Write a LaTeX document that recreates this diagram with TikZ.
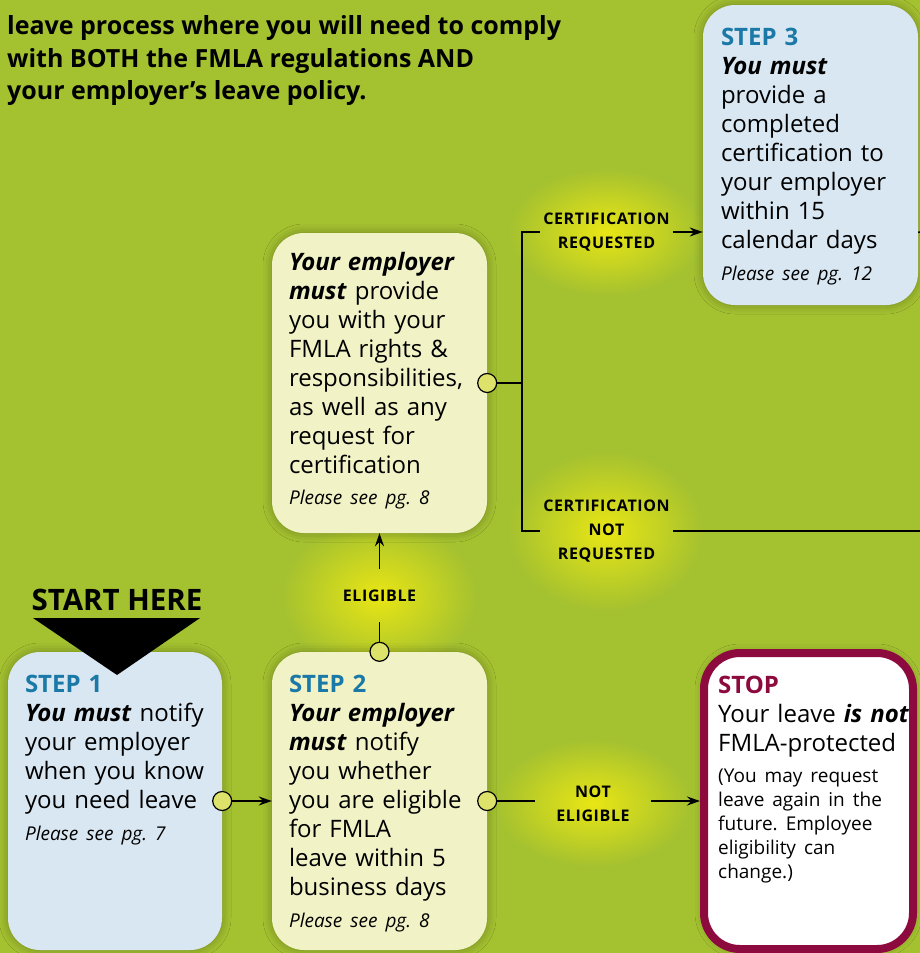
\documentclass[tikz,border=0pt]{standalone}
\usepackage{fontspec}
\setmainfont{Open Sans}
\usetikzlibrary{arrows.meta,shadows.blur}
\definecolor{bg}{HTML}{A4C130}
\definecolor{glow}{HTML}{E9E614}
\definecolor{stepblue}{HTML}{1A79A7}
\definecolor{boxblue}{HTML}{D9E7F2}
\definecolor{boxyel}{HTML}{F1F3C7}
\definecolor{dotyel}{HTML}{DDE36A}
\definecolor{stopred}{HTML}{8C0A3E}
\newcommand{\bi}[1]{\textbf{\textit{#1}}}
\newcommand{\seepg}[1]{\par\vspace{7.5pt}{\fontsize{19}{24}\selectfont\itshape #1\par}}
\frenchspacing
\begin{document}
\begin{tikzpicture}[x=1pt,y=-1pt,
  card/.style={rounded corners=32pt, minimum width=215pt, minimum height=300pt, inner sep=0pt,
    blur shadow={shadow xshift=0pt, shadow yshift=0pt, shadow blur radius=9pt, shadow opacity=30}},
  txt/.style={anchor=north west, inner sep=0pt, text width=230pt, align=left, font=\fontsize{24}{29}\selectfont},
  tag/.style={font=\fontsize{16}{24}\selectfont\bfseries\addfontfeatures{LetterSpace=4}, align=center, inner sep=0pt},
  dot/.style={circle, draw, fill=dotyel, minimum size=19pt, inner sep=0pt, line width=1.2pt},
  link/.style={line width=1.5pt},
  arr/.style={link, -{Stealth[length=13pt,width=9pt]}}]
\useasboundingbox (0,0) rectangle (920,953);
\fill[bg] (0,0) rectangle (920,953);
% glows behind the labels
\shade[inner color=glow, outer color=bg] (606,232) ellipse [x radius=98, y radius=64];
\shade[inner color=glow, outer color=bg] (606,531) ellipse [x radius=98, y radius=80];
\shade[inner color=glow, outer color=bg] (379,596) ellipse [x radius=98, y radius=76];
\shade[inner color=glow, outer color=bg] (593,803) ellipse [x radius=98, y radius=64];
\node[anchor=north west, inner sep=0pt, align=left, font=\fontsize{25}{32.5}\selectfont\bfseries] (head) at (7,15.5)
  {leave process where you will need to comply\\with BOTH the FMLA regulations AND\\your employer’s leave policy.};
% boxes
\node[card, fill=boxblue] (s3) at (810.5,155) {};
\node[card, fill=boxyel] (rt) at (379.5,383) {};
\node[card, fill=boxblue, minimum width=214pt, minimum height=298pt] (s1) at (115,801) {};
\node[card, fill=boxyel, minimum height=298pt] (s2) at (379.5,801) {};
\node[card, fill=white, draw=stopred, line width=8pt, minimum width=209pt, minimum height=296pt, rounded corners=36pt] (stop) at (808.5,801) {};
\node[txt] (s3t) at ([xshift=18pt,yshift=-23.5pt]s3.north west) {{\color{stepblue}\bfseries STEP 3}\\ \bi{You must}\\ provide a\\ completed\\ certification to\\ your employer\\ within 15\\ calendar days\seepg{Please see pg. 12}};
\node[txt] (rtt) at ([xshift=17pt,yshift=-19pt]rt.north west) {\bi{Your employer}\\ \bi{must} provide\\ you with your\\ FMLA rights \&\\ responsibilities,\\ as well as any\\ request for\\ certification\seepg{Please see pg. 8}};
\node[txt] (s1t) at ([xshift=17pt,yshift=-23.5pt]s1.north west) {{\color{stepblue}\bfseries STEP 1}\\ \bi{You must} notify\\ your employer\\ when you know\\ you need leave\seepg{Please see pg. 7}};
\node[txt] (s2t) at ([xshift=17pt,yshift=-23.5pt]s2.north west) {{\color{stepblue}\bfseries STEP 2}\\ \bi{Your employer}\\ \bi{must} notify\\ you whether\\ you are eligible\\ for FMLA\\ leave within 5\\ business days\seepg{Please see pg. 8}};
\node[txt] (stopt) at ([xshift=18pt,yshift=-26.5pt]stop.north west) {{\color{stopred}\bfseries STOP}\\ Your leave \bi{is not}\\ FMLA-protected\par\vspace{7.7pt}{\fontsize{19}{24}\selectfont (You may request\\ leave again in the\\ future. Employee\\ eligibility can\\ change.)\par}};
% start marker
\node[font=\fontsize{29.5}{29.5}\selectfont\bfseries, inner sep=0pt] (start) at (117,600) {START HERE};
\fill[black] (33,618) -- (200,618) -- (117,675) -- cycle;
% labels
\node[tag, minimum width=133pt] (crq) at (606.5,232) {CERTIFICATION\\REQUESTED};
\node[tag, minimum width=133pt] (cnr) at (606.5,531) {CERTIFICATION\\NOT\\REQUESTED};
\node[tag, minimum height=53pt] (elg) at (379.5,595.5) {ELIGIBLE};
\node[tag, minimum width=116pt] (nel) at (593,804) {NOT\\ELIGIBLE};
% dots
\node[dot] (d1) at (s1.east) {};
\node[dot] (d2) at (s2.east) {};
\node[dot] (d3) at (rt.east) {};
\node[dot] (d4) at (s2.north) {};
\coordinate (br) at (522,383);
\coordinate (out3) at (925,233);
\coordinate (out4) at (925,533);
% connectors
\draw[arr](d1) -- (s2.west);
\draw[link](d2) -- (d2 -| nel.west);
\draw[arr](nel.east |- d2) -- (stop.west |- d2);
\draw[link](d4) -- (elg.south);
\draw[arr](elg.north) -- (rt.south);
\draw[link](d3) -- (br) |- (crq.west);
\draw[link](br) |- (cnr.west);
\draw[arr](crq.east) -- (crq.east -| s3.west);
\draw[link](s3.east |- crq.east) -- (out3);
\draw[link](cnr.east) -- (cnr.east -| out4);
\end{tikzpicture}
\end{document}
